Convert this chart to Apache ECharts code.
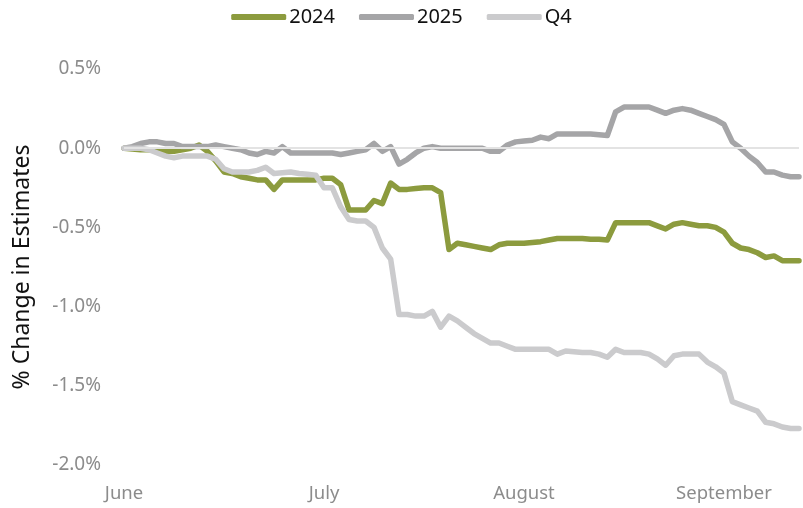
<!DOCTYPE html>
<html>
<head>
<meta charset="utf-8">
<script src="https://cdn.jsdelivr.net/npm/echarts@6/dist/echarts.min.js"></script>
<style>
html,body{margin:0;padding:0;background:#fff;}
#chart{width:803px;height:508px;}
</style>
</head>
<body>
<div id="chart"></div>
<script>
// x-axis month labels and the category index where each appears
const tickLabels = ['June', 'July', 'August', 'September'];
const tickIndex = [0, 24, 48, 72];

// % change in estimates, one value per observation
const s2024 = [0.00,-0.005,-0.01,-0.01,-0.015,-0.02,-0.02,-0.01,0.00,0.02,
  -0.02,-0.08,-0.15,-0.16,-0.18,-0.19,-0.20,-0.20,-0.26,-0.20,
  -0.20,-0.20,-0.20,-0.20,-0.19,-0.19,-0.23,-0.39,-0.39,-0.39,
  -0.33,-0.35,-0.22,-0.26,-0.26,-0.255,-0.25,-0.25,-0.28,-0.64,
  -0.60,-0.61,-0.62,-0.63,-0.64,-0.61,-0.60,-0.60,-0.60,-0.595,
  -0.59,-0.58,-0.57,-0.57,-0.57,-0.57,-0.575,-0.575,-0.58,-0.47,
  -0.47,-0.47,-0.47,-0.47,-0.49,-0.51,-0.48,-0.47,-0.48,-0.49,
  -0.49,-0.50,-0.53,-0.60,-0.63,-0.64,-0.66,-0.69,-0.68,-0.71,
  -0.71,-0.71];
const s2025 = [0.00,0.01,0.03,0.04,0.04,0.03,0.03,0.01,0.01,0.01,
  0.01,0.02,0.01,0.00,-0.01,-0.03,-0.04,-0.02,-0.03,0.01,
  -0.03,-0.03,-0.03,-0.03,-0.03,-0.03,-0.04,-0.03,-0.02,-0.01,
  0.03,-0.02,0.01,-0.10,-0.07,-0.03,0.00,0.01,0.00,0.00,
  0.00,0.00,0.00,0.00,-0.02,-0.02,0.02,0.04,0.045,0.05,
  0.07,0.06,0.09,0.09,0.09,0.09,0.09,0.085,0.08,0.23,
  0.26,0.26,0.26,0.26,0.24,0.22,0.24,0.25,0.24,0.22,
  0.20,0.18,0.15,0.04,0.00,-0.05,-0.09,-0.15,-0.15,-0.17,
  -0.18,-0.18];
const sQ4 = [0.00,0.00,0.00,-0.01,-0.03,-0.05,-0.06,-0.05,-0.05,-0.05,
  -0.05,-0.07,-0.13,-0.15,-0.15,-0.15,-0.14,-0.12,-0.16,-0.155,
  -0.15,-0.16,-0.165,-0.17,-0.25,-0.25,-0.37,-0.45,-0.46,-0.46,
  -0.50,-0.63,-0.70,-1.05,-1.05,-1.06,-1.06,-1.03,-1.13,-1.06,
  -1.09,-1.13,-1.17,-1.20,-1.23,-1.23,-1.25,-1.27,-1.27,-1.27,
  -1.27,-1.27,-1.30,-1.28,-1.285,-1.29,-1.29,-1.30,-1.32,-1.27,
  -1.29,-1.29,-1.29,-1.30,-1.33,-1.37,-1.31,-1.30,-1.30,-1.30,
  -1.35,-1.38,-1.42,-1.60,-1.62,-1.64,-1.66,-1.73,-1.74,-1.76,
  -1.77,-1.77];

const categories = s2024.map((_, i) => {
  const k = tickIndex.indexOf(i);
  return k >= 0 ? tickLabels[k] : String(i);
});

const chart = echarts.init(document.getElementById('chart'), null, {renderer: 'canvas'});
const font = 'Noto Sans';
function lineSeries(name, data, color) {
  return {
    name, type: 'line', data, showSymbol: false, symbol: 'none',
    lineStyle: {color, width: 5.5, cap: 'round', join: 'round'},
    itemStyle: {color}, animation: false
  };
}
chart.setOption({
  animation: false,
  legend: {
    top: 2, left: 'center', itemWidth: 55, itemHeight: 6, itemGap: 24,
    icon: 'roundRect',
    textStyle: {fontFamily: font, fontSize: 20, color: '#111', padding: [0, 0, 0, -2]},
    data: ['2024', '2025', 'Q4']
  },
  grid: {left: 124, right: 4, top: 69, bottom: 43, containLabel: false},
  xAxis: {
    type: 'category', data: categories, boundaryGap: false,
    axisLine: {show: false}, axisTick: {show: false}, splitLine: {show: false},
    axisLabel: {
      interval: (i) => tickIndex.indexOf(i) >= 0,
      formatter: (v) => tickLabels.indexOf(v) >= 0 ? v : '',
      fontFamily: font, fontSize: 18.5, color: '#8c8c8c', margin: 19
    }
  },
  yAxis: {
    type: 'value', min: -2, max: 0.5, interval: 0.5,
    name: '% Change in Estimates', nameLocation: 'middle', nameGap: 90,
    nameTextStyle: {fontFamily: font, fontSize: 23, color: '#111'},
    axisLine: {show: false}, axisTick: {show: false},
    axisLabel: {formatter: (v) => v.toFixed(1) + '%', fontFamily: font, fontSize: 19, color: '#8c8c8c', margin: 23},
    splitLine: {show: false}
  },
  series: [
    {
      name: 'zero', type: 'line', data: s2024.map(() => null), silent: true,
      markLine: {silent: true, symbol: 'none', label: {show: false},
        lineStyle: {color: '#e3e3e3', width: 2, type: 'solid'}, data: [{yAxis: 0}], animation: false}
    },
    lineSeries('2024', s2024, '#8c9b3e'),
    lineSeries('2025', s2025, '#a5a5a7'),
    lineSeries('Q4', sQ4, '#cbcbcd')
  ]
});
</script>
</body>
</html>
